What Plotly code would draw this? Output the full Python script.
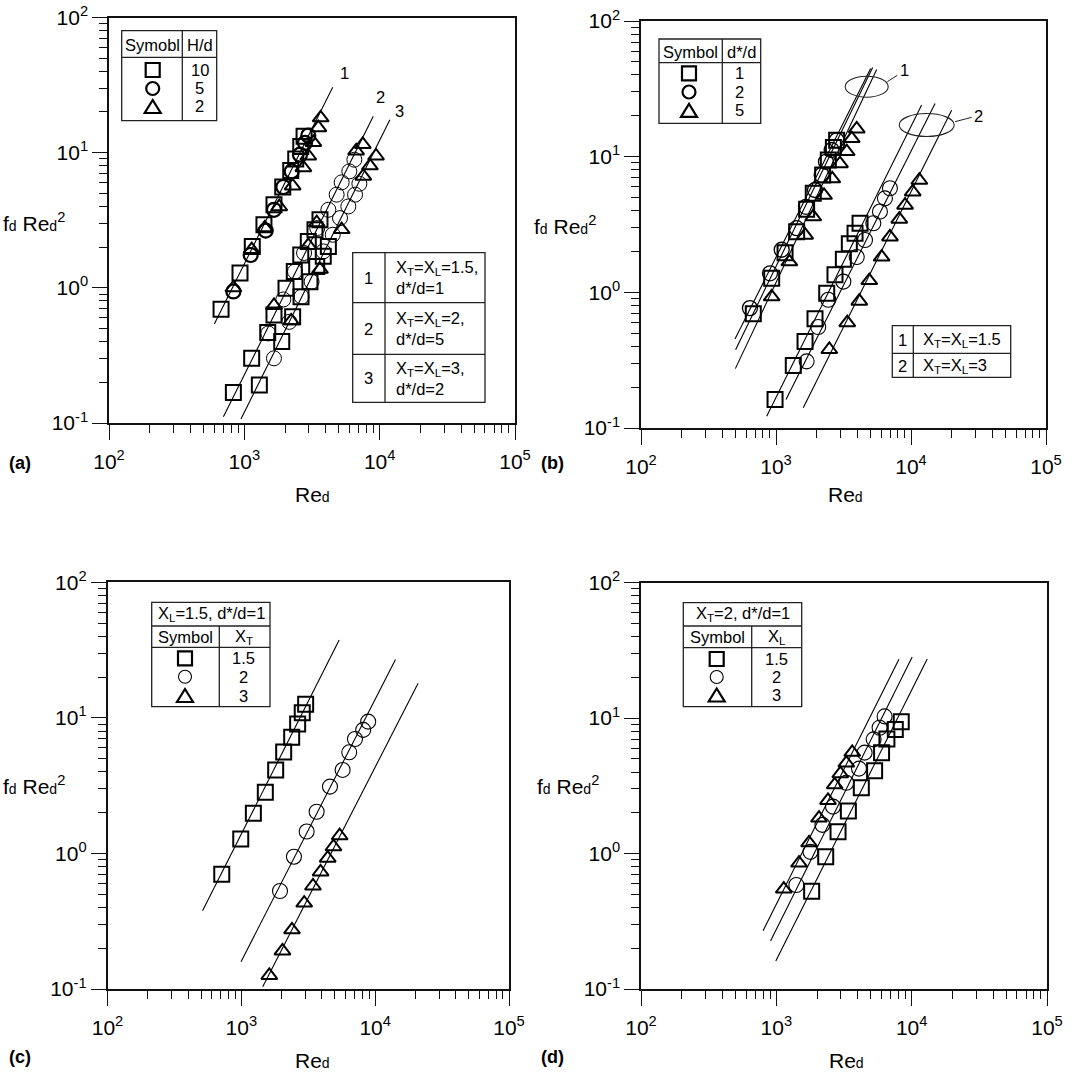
import plotly.graph_objects as go

W, H = 1075, 1074
FONT = "Liberation Sans, Arial, sans-serif"

# ---------------- data ----------------
# Panel (a): H/d = 10 (square), 5 (circle), 2 (triangle); three line groups
a1_sq_re = [673, 929, 1145, 1396, 1656, 1922, 2203, 2398, 2612, 2763]
a1_sq_f = [0.695, 1.29, 2.02, 2.93, 4.12, 5.57, 7.39, 8.98, 11.1, 13.2]
a1_ci_re = [830, 1114, 1438, 1656, 1942, 2239, 2577, 2806, 2969]
a1_ci_f = [0.94, 1.75, 2.65, 3.78, 5.57, 7.27, 9.66, 11.8, 13.4]
a1_tr_re = [830, 1133, 1418, 1811, 2275, 2730, 2969, 3235, 3525, 3666]
a1_tr_f = [1.0, 1.92, 2.78, 3.98, 5.67, 7.74, 9.45, 11.9, 15.3, 18.1]

a2_sq_re = [830, 1133, 1489, 1656, 2032, 2339, 2612, 2969, 3327, 3622]
a2_sq_f = [0.168, 0.301, 0.467, 0.63, 0.995, 1.32, 1.75, 2.2, 2.69, 3.19]
a3_sq_re = [1291, 1889, 2275, 2624, 3055, 3426, 3830, 4178]
a3_sq_f = [0.191, 0.40, 0.61, 0.86, 1.11, 1.44, 1.71, 2.02]
a2_ci_re = [1503, 1942, 2366, 2763, 3459, 4178, 4809, 5236, 5967, 6500]
a2_ci_f = [0.46, 0.82, 1.32, 1.81, 2.77, 3.78, 4.89, 6.03, 7.27, 8.87]
a3_ci_re = [1656, 2148, 2650, 3140, 3830, 4500, 5093, 5864, 6577, 7080]
a3_ci_f = [0.301, 0.56, 0.86, 1.11, 1.86, 2.47, 3.28, 4.0, 4.89, 5.89]
a2_tr_re = [1656, 2969, 3426, 6700, 7500]
a2_tr_f = [0.74, 2.06, 3.03, 10.3, 11.5]
a3_tr_re = [2220, 3622, 5236, 7570, 8470, 9400]
a3_tr_f = [0.57, 1.37, 2.7, 6.7, 8.0, 9.45]

a_line1_re = [600, 4500]
a_line1_f = [0.541, 30.5]
a_line2_re = [700, 8970]
a_line2_f = [0.111, 18.6]
a_line3_re = [944, 11900]
a_line3_f = [0.107, 17.5]

# Panel (b): d*/d = 1 (square), 2 (circle), 5 (triangle)
b1_sq_re = [679, 929, 1167, 1422, 1686, 1888, 2216, 2441, 2661, 2813]
b1_sq_f = [0.695, 1.27, 1.96, 2.80, 4.09, 5.37, 7.33, 9.44, 11.7, 13.2]
b1_ci_re = [641, 903, 1102, 1422, 1667, 1945, 2180, 2344, 2583, 2813]
b1_ci_f = [0.765, 1.38, 2.06, 2.97, 4.27, 5.68, 7.33, 9.16, 11.2, 13.2]
b1_tr_re = [929, 1256, 1644, 1888, 2270, 2612, 2978, 3342, 3639, 3963]
b1_tr_f = [0.927, 1.68, 2.64, 3.60, 5.19, 6.87, 8.87, 10.9, 13.6, 16.0]
b2_sq_re = [984, 1343, 1641, 1945, 2375, 2735, 3155, 3493, 3850, 4194]
b2_sq_f = [0.162, 0.289, 0.435, 0.638, 0.986, 1.35, 1.75, 2.28, 2.73, 3.23]
b2_ci_re = [1686, 2054, 2437, 3155, 3963, 4563, 5260, 5888, 6412, 6982]
b2_ci_f = [0.310, 0.555, 0.881, 1.20, 1.82, 2.43, 3.23, 3.94, 4.93, 5.85]
b2_tr_re = [2483, 3373, 4141, 4909, 6063, 6982, 8185, 9036, 10300, 11530]
b2_tr_f = [0.379, 0.597, 0.861, 1.22, 1.82, 2.56, 3.46, 4.39, 5.50, 6.70]

b_lines_re = [[497, 5023], [502, 5199], [500, 5570],
              [853, 11990], [1186, 15070], [1592, 20000]]
b_lines_f = [[0.453, 44.7], [0.378, 45.4], [0.274, 43.9],
             [0.122, 24.0], [0.162, 24.7], [0.141, 22.0]]

# Panel (c): X_T = 1.5 (square), 2 (circle), 3 (triangle)
c_sq_re = [714, 990, 1230, 1511, 1806, 2072, 2378, 2635, 2852, 3024]
c_sq_f = [0.703, 1.28, 1.98, 2.83, 4.13, 5.61, 7.20, 9.02, 10.9, 12.6]
c_ci_re = [1945, 2472, 3077, 3653, 4595, 5712, 6401, 7063, 8136, 8867]
c_ci_f = [0.528, 0.946, 1.45, 2.03, 3.11, 4.13, 5.57, 6.98, 8.15, 9.38]
c_tr_re = [1618, 2030, 2390, 2950, 3430, 3910, 4420, 4880, 5430]
c_tr_f = [0.126, 0.191, 0.273, 0.430, 0.575, 0.731, 0.923, 1.12, 1.35]
c_lines_re = [[513, 5383], [995, 14190], [1445, 20940]]
c_lines_f = [[0.377, 37.5], [0.159, 27.0], [0.104, 18.0]]

# Panel (d): X_L = 1.5 (square), 2 (circle), 3 (triangle)
d_sq_re = [1824, 2317, 2858, 3406, 4246, 5324, 5994, 6561, 7568, 8375]
d_sq_f = [0.528, 0.948, 1.45, 2.06, 3.06, 4.09, 5.56, 7.01, 8.26, 9.42]
d_ci_re = [1406, 1786, 2190, 2624, 3289, 4081, 4490, 5236, 5794, 6310]
d_ci_f = [0.586, 1.03, 1.63, 2.22, 3.33, 4.24, 5.56, 6.97, 8.49, 10.3]
d_tr_re = [1135, 1472, 1745, 2067, 2409, 2698, 2971, 3289, 3639]
d_tr_f = [0.547, 0.851, 1.20, 1.83, 2.47, 3.22, 3.89, 4.66, 5.59]
d_lines_re = [[798, 8054], [906, 10090], [991, 13030]]
d_lines_f = [[0.269, 27.2], [0.226, 28.3], [0.161, 27.3]]

x_tickvals = [1e2, 1e3, 1e4, 1e5]
x_ticktext = ["10<sup>2</sup>", "10<sup>3</sup>", "10<sup>4</sup>", "10<sup>5</sup>"]
y_tickvals = [1e-1, 1e0, 1e1, 1e2]
y_ticktext = ["10<sup>-1</sup>", "10<sup>0</sup>", "10<sup>1</sup>", "10<sup>2</sup>"]

# ---------------- helpers ----------------
def X(px):
    return px / W


def Y(py):
    return 1 - py / H


fig = go.Figure()

panels = {
    'a': dict(xd=(109, 515), yd=(17.5, 423), n=''),
    'b': dict(xd=(641, 1046), yd=(21, 428), n='2'),
    'c': dict(xd=(107.5, 509), yd=(582.3, 989), n='3'),
    'd': dict(xd=(641, 1047), yd=(582.7, 989), n='4'),
}

minor_x = [m * 10 ** e for e in range(2, 5) for m in range(2, 10)]
minor_y = [m * 10.0 ** e for e in range(-1, 2) for m in range(2, 10)]

layout_axes = {}
for key, p in panels.items():
    n = p['n']
    common = dict(type='log', showline=True, linecolor='#111', linewidth=1.5, mirror=True,
                  ticks='outside', ticklen=15, tickwidth=1.2, tickcolor='#111',
                  showgrid=False, zeroline=False, automargin=False,
                  tickfont=dict(family=FONT, size=21, color='black'))
    layout_axes['xaxis' + n] = dict(common, range=[2, 5],
                                    domain=[X(p['xd'][0]), X(p['xd'][1])],
                                    anchor='y' + n, tickvals=x_tickvals, ticktext=x_ticktext,
                                    ticklabelstandoff=4,
                                    minor=dict(ticks='outside', ticklen=8, tickwidth=1.2,
                                               tickcolor='#111', tickmode='array',
                                               tickvals=minor_x, showgrid=False))
    layout_axes['yaxis' + n] = dict(common, range=[-1, 2],
                                    domain=[Y(p['yd'][1]), Y(p['yd'][0])],
                                    anchor='x' + n, tickvals=y_tickvals, ticktext=y_ticktext,
                                    minor=dict(ticks='outside', ticklen=8, tickwidth=1.2,
                                               tickcolor='#111', tickmode='array',
                                               tickvals=minor_y, showgrid=False))


def pts(re, f, sym, n, lw=2.0, size=15):
    fig.add_trace(go.Scatter(
        x=re, y=f, mode='markers', xaxis='x' + n, yaxis='y' + n,
        marker=dict(symbol=sym, size=size, color='black', line=dict(width=lw, color='black')),
        showlegend=False, hoverinfo='skip'))


def line(re, f, n):
    fig.add_trace(go.Scatter(
        x=re, y=f, mode='lines', xaxis='x' + n, yaxis='y' + n,
        line=dict(color='black', width=1.1), showlegend=False, hoverinfo='skip'))


SQ, CI, TR = 'square-open', 'circle-open', 'triangle-up-open'

# Panel (a)
for r, f in [(a_line1_re, a_line1_f), (a_line2_re, a_line2_f), (a_line3_re, a_line3_f)]:
    line(r, f, '')
pts(a1_sq_re, a1_sq_f, SQ, '')
pts(a1_ci_re, a1_ci_f, CI, '', lw=2.2, size=14)
pts(a1_tr_re, a1_tr_f, TR, '', size=14)
pts(a2_sq_re, a2_sq_f, SQ, '')
pts(a3_sq_re, a3_sq_f, SQ, '')
pts(a2_ci_re, a2_ci_f, CI, '', lw=1.0, size=15)
pts(a3_ci_re, a3_ci_f, CI, '', lw=1.0, size=15)
pts(a2_tr_re, a2_tr_f, TR, '', size=14)
pts(a3_tr_re, a3_tr_f, TR, '', size=14)

# Panel (b)
for r, f in zip(b_lines_re, b_lines_f):
    line(r, f, '2')
pts(b1_sq_re, b1_sq_f, SQ, '2')
pts(b1_ci_re, b1_ci_f, CI, '2', lw=1.3, size=15)
pts(b1_tr_re, b1_tr_f, TR, '2', size=14)
pts(b2_sq_re, b2_sq_f, SQ, '2')
pts(b2_ci_re, b2_ci_f, CI, '2', lw=1.1, size=15)
pts(b2_tr_re, b2_tr_f, TR, '2', size=14)

# Panel (c)
for r, f in zip(c_lines_re, c_lines_f):
    line(r, f, '3')
pts(c_sq_re, c_sq_f, SQ, '3')
pts(c_ci_re, c_ci_f, CI, '3', lw=1.1, size=15)
pts(c_tr_re, c_tr_f, TR, '3', size=14)

# Panel (d)
for r, f in zip(d_lines_re, d_lines_f):
    line(r, f, '4')
pts(d_sq_re, d_sq_f, SQ, '4')
pts(d_ci_re, d_ci_f, CI, '4', lw=1.1, size=15)
pts(d_tr_re, d_tr_f, TR, '4', size=14)

# ---------------- decorations: tables, labels ----------------
shapes = []
annotations = []
TL = dict(color='#222', width=1.3)


def rect(x0, y0, x1, y1):
    shapes.append(dict(type='rect', xref='paper', yref='paper', x0=X(x0), x1=X(x1),
                       y0=Y(y1), y1=Y(y0), line=TL, fillcolor='rgba(0,0,0,0)'))


def seg(x0, y0, x1, y1, lw=1.3):
    shapes.append(dict(type='line', xref='paper', yref='paper', x0=X(x0), x1=X(x1),
                       y0=Y(y0), y1=Y(y1), line=dict(color='#222', width=lw)))


def sym_sq(cx, cy, s=14, lw=2.2):
    shapes.append(dict(type='rect', xref='paper', yref='paper', x0=X(cx - s / 2), x1=X(cx + s / 2),
                       y0=Y(cy + s / 2), y1=Y(cy - s / 2), line=dict(color='black', width=lw)))


def sym_ci(cx, cy, s=13, lw=2.2):
    shapes.append(dict(type='circle', xref='paper', yref='paper', x0=X(cx - s / 2), x1=X(cx + s / 2),
                       y0=Y(cy + s / 2), y1=Y(cy - s / 2), line=dict(color='black', width=lw)))


def sym_tr(cx, cy, w=16, h=13, lw=2.2):
    path = (f"M {X(cx - w / 2)},{Y(cy + h / 2)} L {X(cx + w / 2)},{Y(cy + h / 2)} "
            f"L {X(cx)},{Y(cy - h / 2)} Z")
    shapes.append(dict(type='path', xref='paper', yref='paper', path=path,
                       line=dict(color='black', width=lw)))


def ellipse(cx, cy, w, h):
    shapes.append(dict(type='circle', xref='paper', yref='paper', x0=X(cx - w / 2), x1=X(cx + w / 2),
                       y0=Y(cy + h / 2), y1=Y(cy - h / 2), line=dict(color='#222', width=1.1)))


def txt(x, y, s, size=16.5, xanchor='center', align='center', bold=False):
    if bold:
        s = '<b>' + s + '</b>'
    annotations.append(dict(xref='paper', yref='paper', x=X(x), y=Y(y), text=s, showarrow=False,
                            xanchor=xanchor, yanchor='middle', align=align,
                            font=dict(family=FONT, size=size, color='black')))


# (a) symbol table
rect(121.7, 30.7, 216.7, 120.7)
seg(182.3, 30.7, 182.3, 120.7)
seg(121.7, 57.3, 216.7, 57.3)
txt(152, 45, 'Symobl')
txt(199.5, 45, 'H/d')
sym_sq(152.7, 70)
sym_ci(152.7, 88.5)
sym_tr(152.7, 106.5)
txt(199.5, 70, '10')
txt(199.5, 88.5, '5')
txt(199.5, 106.5, '2')

# (a) line table
rect(352.7, 252.7, 485, 402.3)
seg(385, 252.7, 385, 402.3)
seg(352.7, 302.7, 485, 302.7)
seg(352.7, 354.3, 485, 354.3)
txt(368, 277.5, '1')
txt(368, 328.5, '2')
txt(368, 378, '3')
txt(394, 277.5, 'X<sub>T</sub>=X<sub>L</sub>=1.5,<br>d*/d=1', xanchor='left', align='left')
txt(394, 328.5, 'X<sub>T</sub>=X<sub>L</sub>=2,<br>d*/d=5', xanchor='left', align='left')
txt(394, 378, 'X<sub>T</sub>=X<sub>L</sub>=3,<br>d*/d=2', xanchor='left', align='left')

# (a) line labels
txt(344, 73, '1')
txt(380, 96.5, '2')
txt(399, 111.5, '3')

# (b) symbol table
rect(659, 39, 760.7, 123.3)
seg(722.3, 39, 722.3, 123.3)
seg(659, 62.7, 760.7, 62.7)
txt(690.5, 51.5, 'Symbol')
txt(741, 51.5, 'd*/d')
sym_sq(689, 73.3)
sym_ci(689, 92)
sym_tr(689, 110.3)
txt(739, 73.3, '1')
txt(739, 92, '2')
txt(739, 110.3, '5')

# (b) line table
rect(892.3, 325.7, 1010.7, 377.3)
seg(913.3, 325.7, 913.3, 377.3)
seg(892.3, 353.3, 1010.7, 353.3)
txt(902.8, 340.5, '1')
txt(902.8, 366, '2')
txt(921, 340.5, 'X<sub>T</sub>=X<sub>L</sub>=1.5', xanchor='left', align='left')
txt(921, 366, 'X<sub>T</sub>=X<sub>L</sub>=3', xanchor='left', align='left')

# (b) ellipses and labels
ellipse(866.7, 86.7, 43, 21)
seg(887.3, 81.7, 897.3, 75.3, lw=1.0)
txt(904, 70, '1')
ellipse(926.7, 125, 55, 23)
seg(955, 121.7, 971.7, 117.3, lw=1.0)
txt(978.5, 116, '2')

# (c) table
rect(151.7, 602.3, 270, 706.7)
seg(151.7, 626, 270, 626)
seg(151.7, 647.3, 270, 647.3)
seg(219.3, 626, 219.3, 706.7)
txt(211, 614, 'X<sub>L</sub>=1.5, d*/d=1')
txt(185.5, 636.7, 'Symbol')
txt(244, 636.7, 'X<sub>T</sub>')
sym_sq(185, 658.3)
sym_ci(185, 676.7, lw=1.1)
sym_tr(185, 695.5)
txt(243.5, 658.3, '1.5')
txt(243.5, 676.7, '2')
txt(243.5, 695.5, '3')

# (d) table
rect(683.3, 602.7, 801.7, 706.7)
seg(683.3, 626, 801.7, 626)
seg(683.3, 647.7, 801.7, 647.7)
seg(751.7, 626, 751.7, 706.7)
txt(742.5, 614, 'X<sub>T</sub>=2, d*/d=1')
txt(717.5, 637.3, 'Symbol')
txt(776.5, 637.3, 'X<sub>L</sub>')
sym_sq(716.7, 659)
sym_ci(716.7, 677, lw=1.1)
sym_tr(716.7, 695)
txt(776, 659, '1.5')
txt(776, 677, '2')
txt(776, 695, '3')

# axis titles and panel labels
SMALL = "<span style='font-size:14px'>d</span>"
ytitle = 'f' + SMALL + ' Re' + SMALL + '<sup>2</sup>'
xtitle = 'Re' + SMALL
for (yx, yy, xx, xy, lx, ly, lab) in [
        (67, 222, 312, 494, 20, 463, 'a'),
        (598, 225, 845, 494, 553, 463, 'b'),
        (67, 785, 312, 1060, 20, 1057, 'c'),
        (601, 785, 846, 1060, 553, 1057, 'd')]:
    txt(yx, yy, ytitle, size=21, xanchor='right')
    txt(xx, xy, xtitle, size=21)
    txt(lx, ly, '(' + lab + ')', size=18, bold=True)

fig.update_layout(
    width=W, height=H, margin=dict(l=0, r=0, t=0, b=0, pad=0, autoexpand=False),
    paper_bgcolor='white', plot_bgcolor='white', showlegend=False,
    font=dict(family=FONT, color='black'),
    shapes=shapes, annotations=annotations,
    **layout_axes)

fig.write_html("out.html")
